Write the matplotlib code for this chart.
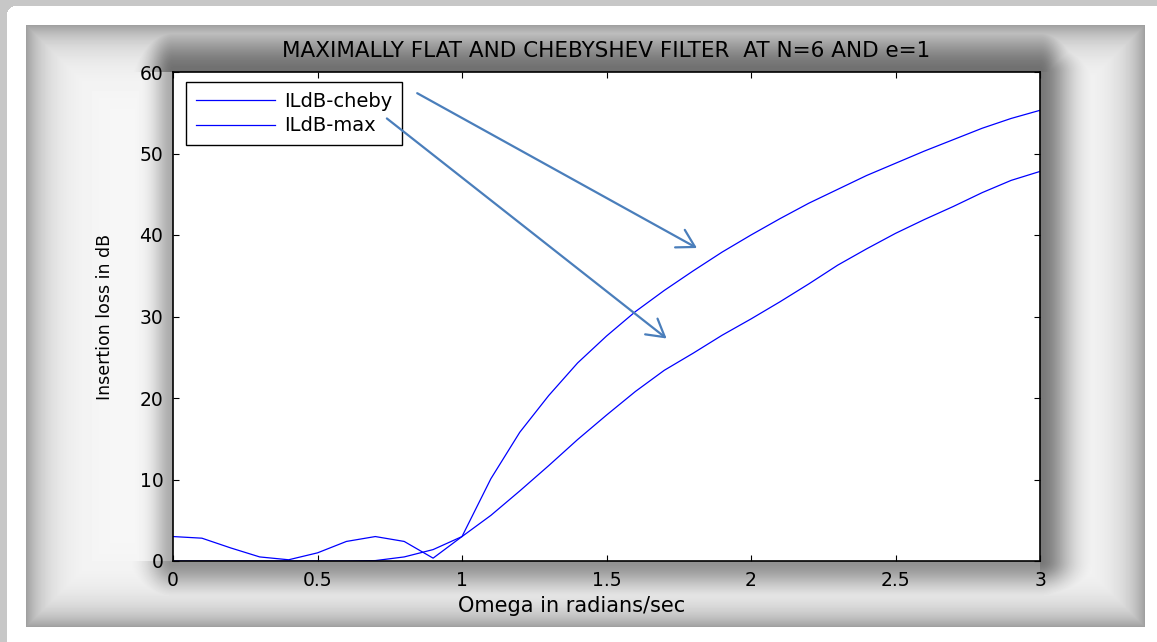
#!/usr/bin/env python3

"""
Insertion loss of maximally flat vs Chebyshev low-pass prototype (N=6, e=1),
redrawn from a MATLAB figure that was pasted onto a slide with a soft grey frame.
"""

import numpy as np
import matplotlib
matplotlib.use('Agg')
import matplotlib.pyplot as plt

# ---------------------------------------------------------------
# Data
# ---------------------------------------------------------------
omega = [0.0, 0.1, 0.2, 0.3, 0.4, 0.5, 0.6, 0.7, 0.8, 0.9, 1.0,
         1.1, 1.2, 1.3, 1.4, 1.5, 1.6, 1.7, 1.8, 1.9, 2.0,
         2.1, 2.2, 2.3, 2.4, 2.5, 2.6, 2.7, 2.8, 2.9, 3.0]

il_cheby = [3.0, 2.8, 1.6, 0.5, 0.15, 1.0, 2.4, 3.0, 2.4, 0.35, 3.0,
            10.1, 15.8, 20.3, 24.3, 27.6, 30.6, 33.2, 35.6, 37.9, 40.0,
            42.0, 43.9, 45.6, 47.3, 48.8, 50.3, 51.7, 53.1, 54.3, 55.3]

il_max = [0.0, 0.0, 0.0, 0.0, 0.0, 0.0, 0.0, 0.05, 0.5, 1.4, 3.0,
          5.6, 8.6, 11.7, 14.9, 17.9, 20.8, 23.4, 25.5, 27.7, 29.7,
          31.8, 34.0, 36.3, 38.3, 40.2, 41.9, 43.5, 45.2, 46.7, 47.8]

series_labels = ['ILdB-cheby', 'ILdB-max']
x_ticks = [0, 0.5, 1, 1.5, 2, 2.5, 3]
x_ticklabels = ['0', '0.5', '1', '1.5', '2', '2.5', '3']
y_ticks = [0, 10, 20, 30, 40, 50, 60]

# callout arrows drawn on the slide (data coords): start -> end
arrow_cheby = ((0.845, 57.4), (1.813, 38.4))
arrow_max = ((0.74, 54.3), (1.708, 27.3))

# Figure size in pixels and box positions (pixels from the top-left)
W, H = 1157, 642
AX_BOX = (173, 72, 1040, 561)      # left, top, right, bottom
FRAME_BOX = (26, 25, 1145, 627)


def frame_image(w, h, ax_box, outer_box):
    '''Grey "picture frame" round the axes, dark near both edges'''
    yy, xx = np.mgrid[0:h, 0:w] + 0.5
    l, t, r, b = ax_box
    dl, dr, dt, db = l - xx, xx - r, t - yy, yy - b
    hd = np.maximum(np.maximum(dl, dr), 0)
    vd = np.maximum(np.maximum(dt, db), 0)

    # (distance across the side, amplitude, falloff) for each side,
    # shade fades once past the end of that side
    sides = [(dl, hd, vd, 0.30, 19.0),
             (dr, hd, vd, 0.50, 30.0),
             (dt, vd, hd, 0.53, 42.0),
             (db, vd, hd, 0.40, 27.0)]
    dark_in = np.zeros_like(xx)
    for d, perp, par, amp, sc in sides:
        shade = amp * np.exp(-(perp / sc) ** 2) * np.exp(-(par / 24.0) ** 2)
        dark_in = np.maximum(dark_in, np.where(d > 0, shade, 0))

    ol, ot, orr, ob = outer_box
    d_out = np.minimum.reduce([xx - ol, orr - xx, yy - ot, ob - yy])
    dark_out = 0.35 * np.exp(-np.maximum(d_out, 0) / 20.0)

    g = 0.97 - np.maximum(dark_in, dark_out)
    inside = (xx >= ol) & (xx <= orr) & (yy >= ot) & (yy <= ob)

    img = np.ones((h, w))
    img[inside] = g[inside]

    # thin grey slide border top/left with a rounded corner
    img[(yy < 6) | (xx < 7)] = 0.78
    rad = 9
    corner = (xx < 7 + rad) & (yy < 6 + rad) & \
             (np.hypot(xx - (7 + rad), yy - (6 + rad)) > rad)
    img[corner] = 0.78
    return img


def make_visual():
    '''Draw the whole slide'''
    plt.rcParams['font.family'] = ['DejaVu Sans']

    fig = plt.figure(figsize=(W / 100, H / 100), dpi=100)

    # background frame
    bg = fig.add_axes([0, 0, 1, 1])
    bg.imshow(frame_image(W, H, AX_BOX, FRAME_BOX), cmap='gray', vmin=0, vmax=1,
              aspect='auto', interpolation='bilinear')
    bg.set_axis_off()

    l, t, r, b = AX_BOX
    ax = fig.add_axes([l / W, 1 - b / H, (r - l) / W, (b - t) / H])
    ax.set_facecolor('white')

    ax.plot(omega, il_cheby, color='#0000ff', lw=0.9, label=series_labels[0])
    ax.plot(omega, il_max, color='#0000ff', lw=0.9, label=series_labels[1])

    ax.set_xlim(0, 3)
    ax.set_ylim(0, 60)
    ax.set_xticks(x_ticks)
    ax.set_xticklabels(x_ticklabels)
    ax.set_yticks(y_ticks)
    ax.tick_params(direction='in', top=True, right=True, length=4, width=0.8,
                   labelsize=13.5, pad=7)
    for sp in ax.spines.values():
        sp.set_linewidth(1.2)

    ax.set_title('MAXIMALLY FLAT AND CHEBYSHEV FILTER  AT N=6 AND e=1',
                 fontsize=15.5, pad=11)
    ax.set_xlabel('Omega in radians/sec', fontsize=15)
    ax.xaxis.set_label_coords(0.46, -0.072)
    ax.set_ylabel('Insertion loss in dB', fontsize=12.5, labelpad=18)

    leg = ax.legend(loc='upper left', bbox_to_anchor=(0.015, 0.98),
                    borderaxespad=0, fancybox=False, framealpha=1,
                    edgecolor='black', fontsize=14, handlelength=4.1,
                    handletextpad=0.45, labelspacing=0.3, borderpad=0.5)
    leg.get_frame().set_linewidth(1.0)

    # slide callouts
    for (start, end) in (arrow_cheby, arrow_max):
        ax.annotate('', xy=end, xytext=start, xycoords='data',
                    arrowprops=dict(arrowstyle='->,head_length=0.62,head_width=0.36',
                                    color='#4a7ebb', lw=1.6, mutation_scale=20,
                                    shrinkA=0, shrinkB=0),
                    zorder=6, annotation_clip=False)

    return fig


if __name__ == "__main__":
    fig = make_visual()
    fig.savefig('out.png', dpi=100)
